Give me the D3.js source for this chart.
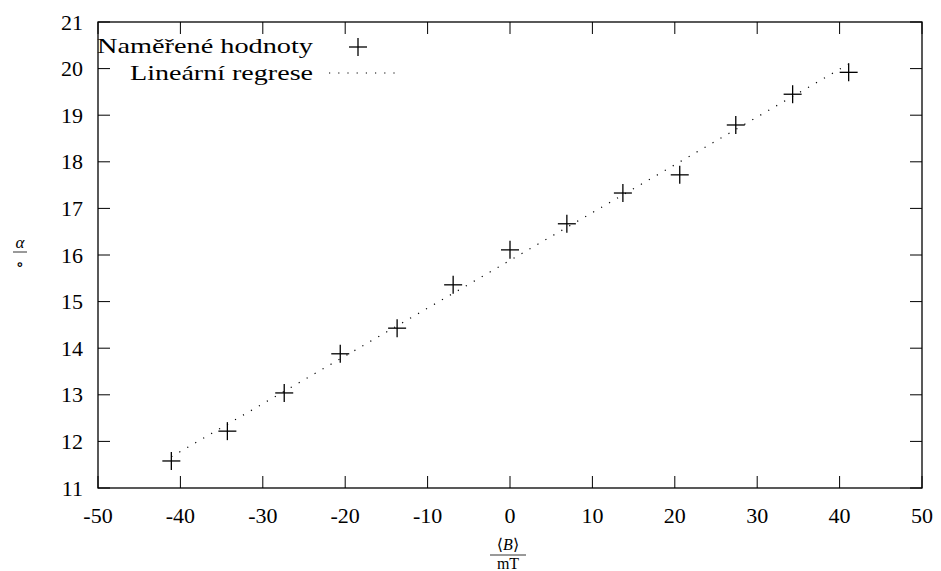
<!DOCTYPE html>
<html><head><meta charset="utf-8">
<script src="https://cdn.jsdelivr.net/npm/d3@7"></script>
<style>body{margin:0;background:#fff} text{font-family:"Liberation Serif","DejaVu Serif",serif}</style>
</head><body>
<script>
const xValues = [-41.1, -34.3, -27.4, -20.6, -13.7, -6.9, 0, 6.9, 13.7, 20.6, 27.4, 34.3, 41.1];
const yValues = [11.58, 12.22, 13.04, 13.88, 14.43, 15.36, 16.11, 16.67, 17.33, 17.72, 18.79, 19.45, 19.92];
const fitX = [-41.1, 41.1];
const fitY = [11.67, 20.1];
const xTicks = [-50, -40, -30, -20, -10, 0, 10, 20, 30, 40, 50];
const yTicks = [11, 12, 13, 14, 15, 16, 17, 18, 19, 20, 21];
const legendLabels = ["Naměřené hodnoty", "Lineární regrese"];

const W = 941, H = 571;
const L = 98, R = 922, T = 22, B = 488;
const fs = 22;
const svg = d3.select("body").append("svg").attr("width", W).attr("height", H);
const x = d3.scaleLinear().domain([-50, 50]).range([L, R]);
const y = d3.scaleLinear().domain([11, 21]).range([B, T]);

const tl = 12;
const g = svg.append("g").attr("stroke", "#000").attr("stroke-width", 1);
xTicks.forEach(t => {
  g.append("line").attr("x1", x(t)).attr("x2", x(t)).attr("y1", B).attr("y2", B - tl);
  g.append("line").attr("x1", x(t)).attr("x2", x(t)).attr("y1", T).attr("y2", T + tl);
});
yTicks.forEach(t => {
  g.append("line").attr("x1", L).attr("x2", L + tl).attr("y1", y(t)).attr("y2", y(t));
  g.append("line").attr("x1", R).attr("x2", R - tl).attr("y1", y(t)).attr("y2", y(t));
});
svg.append("rect").attr("x", L).attr("y", T).attr("width", R - L).attr("height", B - T)
  .attr("fill", "none").attr("stroke", "#000").attr("stroke-width", 1.3);

svg.append("g").selectAll("text").data(xTicks).join("text")
  .attr("x", d => x(d)).attr("y", 523).attr("text-anchor", "middle")
  .attr("font-size", fs).text(d => d);
svg.append("g").selectAll("text").data(yTicks).join("text")
  .attr("x", 83).attr("y", d => y(d) + 7.5).attr("text-anchor", "end")
  .attr("font-size", fs).text(d => d);

svg.append("line").attr("x1", x(fitX[0])).attr("y1", y(fitY[0]))
  .attr("x2", x(fitX[1])).attr("y2", y(fitY[1]))
  .attr("stroke", "#000").attr("stroke-width", 1.2).attr("stroke-dasharray", "1.2,8");

const ps = 9;
const pts = svg.append("g").attr("stroke", "#000").attr("stroke-width", 1.3);
xValues.forEach((xv, i) => {
  const cx = x(xv), cy = y(yValues[i]);
  pts.append("line").attr("x1", cx - ps).attr("x2", cx + ps).attr("y1", cy).attr("y2", cy);
  pts.append("line").attr("x1", cx).attr("x2", cx).attr("y1", cy - ps).attr("y2", cy + ps);
});

// legend
svg.append("text").attr("x", 313).attr("y", 53).attr("text-anchor", "end")
  .attr("font-size", fs).attr("textLength", 216).attr("lengthAdjust", "spacingAndGlyphs").text(legendLabels[0]);
svg.append("text").attr("x", 313).attr("y", 80).attr("text-anchor", "end")
  .attr("font-size", fs).attr("textLength", 183).attr("lengthAdjust", "spacingAndGlyphs").text(legendLabels[1]);
pts.append("line").attr("x1", 358 - ps).attr("x2", 358 + ps).attr("y1", 47).attr("y2", 47);
pts.append("line").attr("x1", 358).attr("x2", 358).attr("y1", 47 - ps).attr("y2", 47 + ps);
svg.append("line").attr("x1", 329).attr("x2", 396).attr("y1", 73).attr("y2", 73)
  .attr("stroke", "#000").attr("stroke-width", 1.2).attr("stroke-dasharray", "1.2,8");

// x axis label
svg.append("text").attr("x", 508).attr("y", 550).attr("text-anchor", "middle")
  .attr("font-size", 16)
  .html('⟨<tspan font-style="italic">B</tspan>⟩');
svg.append("line").attr("x1", 490).attr("x2", 526).attr("y1", 555).attr("y2", 555)
  .attr("stroke", "#000").attr("stroke-width", 0.8);
svg.append("text").attr("x", 508).attr("y", 569).attr("text-anchor", "middle")
  .attr("font-size", 16).text("mT");

// y axis label
svg.append("text").attr("x", 20).attr("y", 248).attr("text-anchor", "middle")
  .attr("font-size", 17).attr("font-style", "italic").text("α");
svg.append("line").attr("x1", 13).attr("x2", 27).attr("y1", 252).attr("y2", 252)
  .attr("stroke", "#000").attr("stroke-width", 0.8);
svg.append("text").attr("x", 20).attr("y", 270).attr("text-anchor", "middle")
  .attr("font-size", 17).text("∘");
</script>
</body></html>
